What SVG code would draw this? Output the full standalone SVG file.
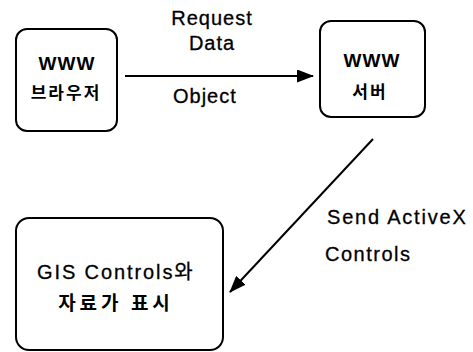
<svg xmlns="http://www.w3.org/2000/svg" width="473" height="352" viewBox="0 0 473 352">
<defs>
<style>
.box{fill:#fff;stroke:#000;stroke-width:2}
.t{font-family:"Liberation Sans","Noto Sans CJK KR",sans-serif;font-size:20px;fill:#000;stroke:#000;stroke-width:0.3;letter-spacing:1px}
.b{font-family:"Liberation Sans","Noto Sans CJK KR",sans-serif;font-size:19px;font-weight:bold;fill:#000;text-anchor:middle;letter-spacing:1px}
.k{font-family:"Noto Sans CJK KR",sans-serif;font-size:17px;font-weight:bold;fill:#000;text-anchor:middle;letter-spacing:2px}
.c{text-anchor:middle}
.ln{stroke:#000;stroke-width:2;fill:none}
</style>
<marker id="ah" markerWidth="17" markerHeight="13" refX="16" refY="6.5" orient="auto" markerUnits="userSpaceOnUse">
<path d="M0,0 L17,6.5 L0,13 Z" fill="#000"/>
</marker>
</defs>
<g id="browser">
<rect class="box" x="16" y="29" width="101" height="102" rx="11"/>
<text class="b" x="67" y="70">WWW</text>
<text class="k" x="66" y="99">브라우저</text>
</g>
<g id="server">
<rect class="box" x="320" y="21" width="105" height="96" rx="11"/>
<text class="b" x="372" y="67">WWW</text>
<text class="k" x="370" y="98">서버</text>
</g>
<g id="display">
<rect class="box" x="16" y="218" width="207" height="132" rx="13"/>
<text class="t" x="37" y="279" style="letter-spacing:1.9px">GIS Controls와</text>
<text class="k" x="116" y="310" style="font-size:19px;letter-spacing:4px">자료가 표시</text>
</g>
<g id="connectors">
<line class="ln" x1="125" y1="76" x2="313" y2="76" marker-end="url(#ah)"/>
<line class="ln" x1="373" y1="139" x2="230" y2="292" marker-end="url(#ah)"/>
<text class="t c" x="212" y="25">Request</text>
<text class="t c" x="212" y="50">Data</text>
<text class="t" x="173" y="103">Object</text>
<text class="t" x="327" y="224" style="letter-spacing:1.8px">Send ActiveX</text>
<text class="t" x="325" y="261" style="letter-spacing:1.5px">Controls</text>
</g>
</svg>
